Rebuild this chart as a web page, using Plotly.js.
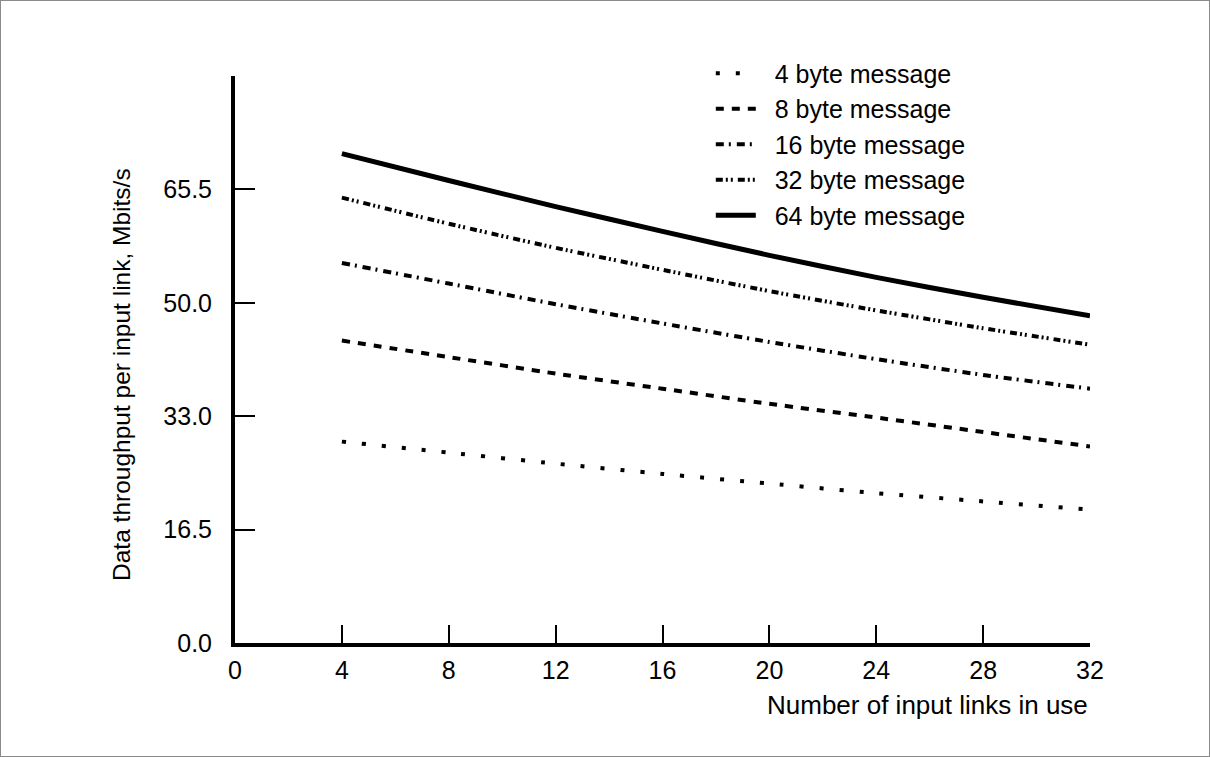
<!DOCTYPE html>
<html>
<head>
<meta charset="utf-8">
<script src="https://cdn.plot.ly/plotly-3.0.1.min.js"></script>
<style>
html,body{margin:0;padding:0;background:#fff;}
#chart{width:1210px;height:757px;box-sizing:border-box;border:1px solid #8a8a8a;}
</style>
</head>
<body>
<div id="chart"></div>
<script>
// Number of input links in use
const links = [4, 8, 12, 16, 20, 24, 28, 32];

// Data throughput per input link (axis units; tick labels below)
const msg4  = [29.3, 27.7, 26.1, 24.6, 23.2, 21.8, 20.6, 19.4];
const msg8  = [44.0, 41.6, 39.2, 37.0, 34.8, 32.8, 30.7, 28.6];
const msg16 = [55.3, 52.3, 49.3, 46.5, 43.8, 41.3, 39.0, 37.0];
const msg32 = [64.8, 61.0, 57.5, 54.3, 51.2, 48.4, 45.8, 43.4];
const msg64 = [71.2, 67.3, 63.5, 59.9, 56.4, 53.2, 50.3, 47.6];

const seriesNames = ["4 byte message", "8 byte message", "16 byte message", "32 byte message", "64 byte message"];

const xTickVals = [0, 4, 8, 12, 16, 20, 24, 28, 32];
const xTickText = ["0", "4", "8", "12", "16", "20", "24", "28", "32"];
const yTickVals = [0, 16.5, 33, 49.5, 66, 82.5];
const yTickText = ["0.0", "16.5", "33.0", "50.0", "65.5", ""];

const FONT = "'Liberation Sans', Arial, Helvetica, sans-serif";

const styles = [
  {dash: "4px,16px", width: 4},
  {dash: "8px,8px", width: 4},
  {dash: "8px,5px,2px,6px", width: 4},
  {dash: "7px,3px,2px,3px,2px,5px", width: 4},
  {dash: "solid", width: 5}
];
const ys = [msg4, msg8, msg16, msg32, msg64];

const traces = ys.map((y, i) => ({
  type: "scatter",
  mode: "lines",
  x: links,
  y: y,
  name: "\u00a0\u00a0" + seriesNames[i],
  line: {color: "#000", width: styles[i].width, dash: styles[i].dash, shape: "spline", smoothing: 0.6},
  hoverinfo: "x+y"
}));

const layout = {
  width: 1208,
  height: 755,
  paper_bgcolor: "#fff",
  plot_bgcolor: "#fff",
  margin: {l: 234, r: 119, t: 75, b: 113},
  font: {family: FONT, size: 25, color: "#000"},
  showlegend: true,
  legend: {
    x: 0.5565, y: 1.045, xanchor: "left", yanchor: "top",
    bgcolor: "rgba(0,0,0,0)",
    font: {family: FONT, size: 25, color: "#000"},
    itemwidth: 40,
    tracegroupgap: 0
  },
  xaxis: {
    range: [0, 32],
    tickmode: "array",
    tickvals: xTickVals,
    ticktext: xTickText,
    ticks: "inside",
    ticklen: 18,
    tickwidth: 2,
    tickcolor: "#000",
    showline: true,
    linewidth: 4,
    linecolor: "#000",
    showgrid: false,
    zeroline: false,
    ticklabelstandoff: 2,
    tickfont: {family: FONT, size: 25, color: "#000"}
  },
  yaxis: {
    range: [0, 82.5],
    tickmode: "array",
    tickvals: yTickVals,
    ticktext: yTickText,
    ticks: "inside",
    ticklen: 20,
    tickwidth: 2,
    tickcolor: "#000",
    showline: true,
    linewidth: 4,
    linecolor: "#000",
    showgrid: false,
    zeroline: false,
    ticklabelstandoff: 14,
    tickfont: {family: FONT, size: 25, color: "#000"}
  },
  annotations: [
    {
      text: "Data throughput per input link, Mbits/s",
      xref: "paper", yref: "paper",
      x: 0, y: 0.4727, xanchor: "center", yanchor: "middle",
      xshift: -113, textangle: -90, showarrow: false,
      font: {family: FONT, size: 24.5, color: "#000"}
    },
    {
      text: "Number of input links in use",
      xref: "paper", yref: "paper",
      x: 1, y: 0, xanchor: "right", yanchor: "middle",
      xshift: 0, yshift: -62, showarrow: false,
      font: {family: FONT, size: 26, color: "#000"}
    }
  ]
};

Plotly.newPlot("chart", traces, layout, {displayModeBar: false, staticPlot: true});
</script>
</body>
</html>
